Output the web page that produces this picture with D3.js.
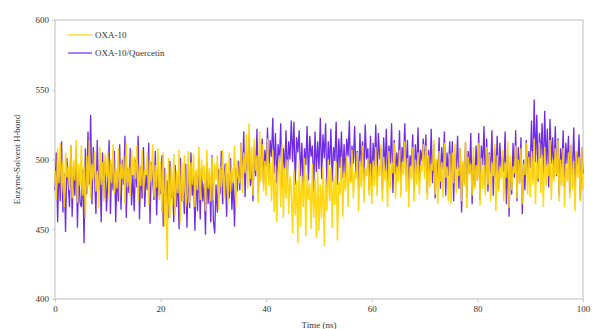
<!DOCTYPE html>
<html>
<head>
<meta charset="utf-8">
<script src="https://cdn.jsdelivr.net/npm/d3@7"></script>
<style>
  body { margin: 0; background: #fff; }
  text { font-family: "Liberation Serif", "DejaVu Serif", serif; }
</style>
</head>
<body>
<figure id="chart" style="margin:0"></figure>
<script>
// series names, as in legend
const seriesNames = ["OXA-10", "OXA-10/Quercetin"];
const xTicks = [0, 20, 40, 60, 80, 100];
const yTicks = [400, 450, 500, 550, 600];
const step = 0.25; // ns between samples

// OXA-10 (0..100 ns, one row = 5 ns)
const oxa10 = [
  492,471,508,483,512,476,499,466,505,487,495,478,510,472,500,485,514,469,497,481,
  510,474,495,458,503,480,514,472,497,485,506,477,492,465,509,482,498,470,504,488,
  506,471,500,483,511,476,494,479,508,473,497,486,503,468,512,480,495,474,507,489,
  502,486,510,470,497,481,507,475,493,489,505,467,499,484,511,473,496,480,508,471,
  499,462,505,452,490,428,501,458,495,467,504,460,492,476,507,455,498,470,503,466,
  474,506,469,498,482,504,466,493,478,509,471,500,485,496,463,507,479,494,470,502,
  471,497,485,503,464,495,480,507,472,492,498,468,505,477,494,483,510,466,500,487,
  483,512,476,505,490,518,479,526,486,509,474,515,492,503,469,520,484,511,477,499,
  474,515,481,498,470,507,462,496,455,490,503,466,511,458,494,472,500,461,488,477,
  447,493,460,485,440,499,452,488,466,501,445,490,471,483,450,497,458,486,444,492,
  449,482,458,495,438,487,463,500,470,494,451,489,467,498,442,484,475,502,459,491,
  478,503,466,498,483,507,472,491,486,505,463,499,480,510,469,494,488,501,474,497,
  468,499,481,509,474,496,488,511,470,502,485,493,466,506,479,498,490,512,472,495,
  484,507,473,498,489,513,477,501,466,495,486,509,470,500,482,505,475,496,491,511,
  486,510,471,503,480,497,492,514,475,500,468,506,484,498,473,512,487,495,470,504,
  468,505,483,511,476,494,488,508,470,499,481,513,465,502,490,497,474,509,479,496,
  485,512,467,501,479,496,474,509,482,504,470,498,488,511,463,503,477,495,486,507,
  470,498,487,513,465,503,478,495,490,510,472,500,483,508,468,497,489,512,475,502,
  473,506,482,515,468,499,486,512,476,503,466,509,481,497,488,514,471,500,484,508,
  489,514,470,500,481,508,466,497,484,505,472,511,478,499,463,506,487,502,470,509,
  478
];

// OXA-10/Quercetin
const oxa10Quercetin = [
  478,505,455,498,470,513,462,490,448,501,483,466,510,459,495,474,507,451,492,469,
  466,493,440,508,475,520,482,532,468,509,487,461,514,478,497,455,505,472,499,463,
  485,514,461,497,478,506,455,492,470,511,464,500,482,517,458,494,476,508,467,489,
  463,500,480,517,457,495,472,509,466,489,478,512,454,498,485,471,506,460,493,475,
  476,503,452,494,468,485,458,499,472,482,455,496,466,488,450,501,470,484,461,497,
  451,496,465,505,474,488,449,491,463,500,457,494,470,483,446,498,468,489,455,503,
  456,447,482,462,493,475,506,468,488,497,459,490,472,501,464,485,452,494,477,499,
  478,512,486,520,473,505,492,516,481,498,470,509,488,522,476,503,494,515,483,507,
  495,523,487,514,502,530,490,519,483,511,498,526,480,508,493,521,486,513,500,528,
  498,527,482,516,505,521,488,512,479,508,496,524,485,517,502,510,477,520,491,513,
  493,530,486,518,501,526,480,513,496,522,484,509,499,527,482,515,494,520,487,511,
  487,515,502,528,484,510,497,524,489,506,480,519,495,513,486,525,500,508,478,517,
  481,512,495,525,486,519,500,508,478,516,491,522,483,510,497,526,476,514,489,505,
  492,521,484,509,498,526,488,514,480,503,495,518,477,511,490,523,485,507,499,515,
  495,518,476,507,490,522,483,511,472,500,487,516,479,509,493,520,474,505,488,513,
  486,513,470,504,493,517,479,508,462,497,484,512,473,506,490,519,468,502,481,510,
  485,519,471,510,496,524,482,515,477,505,490,521,474,508,487,517,479,512,493,502,
  491,520,468,503,459,498,475,512,487,521,470,509,483,516,461,500,478,514,489,506,
  494,528,486,543,498,532,484,519,501,526,489,535,495,522,480,529,497,516,487,524,
  488,515,474,508,493,521,480,512,497,517,476,510,490,523,482,506,495,518,471,509,
  490
];

const width = 597, height = 329;
const margin = { top: 20, right: 14, bottom: 30, left: 55 };
const colors = ["#FFD400", "#6F2BE6"];

const svg = d3.select("figure#chart")
  .append("svg")
  .attr("width", width)
  .attr("height", height);

const x = d3.scaleLinear().domain([0, 100]).range([margin.left, width - margin.right]);
const y = d3.scaleLinear().domain([400, 600]).range([height - margin.bottom, margin.top]);

// frame
svg.append("rect")
  .attr("x", margin.left)
  .attr("y", margin.top)
  .attr("width", width - margin.left - margin.right)
  .attr("height", height - margin.top - margin.bottom)
  .attr("fill", "none")
  .attr("stroke", "#c8c8c8")
  .attr("stroke-width", 1.2);

const line = d3.line()
  .x((d, i) => x(i * step))
  .y(d => y(d));

// quercetin first, OXA-10 on top
svg.append("path")
  .datum(oxa10Quercetin)
  .attr("d", line)
  .attr("fill", "none")
  .attr("stroke", colors[1])
  .attr("stroke-width", 1.3);

svg.append("path")
  .datum(oxa10)
  .attr("d", line)
  .attr("fill", "none")
  .attr("stroke", colors[0])
  .attr("stroke-opacity", 0.92)
  .attr("stroke-width", 1.5);

// axes
const xAxis = svg.append("g")
  .attr("transform", "translate(0," + (height - margin.bottom) + ")")
  .call(d3.axisBottom(x).tickValues(xTicks).tickSize(3).tickPadding(4));
const yAxis = svg.append("g")
  .attr("transform", "translate(" + margin.left + ",0)")
  .call(d3.axisLeft(y).tickValues(yTicks).tickSize(3).tickPadding(3));

[xAxis, yAxis].forEach(a => {
  a.select(".domain").remove();
  a.selectAll(".tick line").attr("stroke", "#c8c8c8");
  a.selectAll(".tick text")
    .attr("fill", "#333")
    .attr("font-size", 9)
    .attr("font-family", "Liberation Serif, serif");
});

// axis titles
svg.append("text")
  .attr("x", (margin.left + width - margin.right) / 2)
  .attr("y", 328)
  .attr("text-anchor", "middle")
  .attr("font-size", 9)
  .attr("fill", "#333")
  .text("Time (ns)");

svg.append("text")
  .attr("transform", "translate(20," + ((margin.top + height - margin.bottom) / 2) + ") rotate(-90)")
  .attr("text-anchor", "middle")
  .attr("font-size", 9)
  .attr("fill", "#333")
  .text("Enzyme-Solvent H-bond");

// legend
const legend = svg.append("g").attr("transform", "translate(68,35)");
seriesNames.forEach((name, i) => {
  legend.append("line")
    .attr("x1", 0).attr("x2", 24)
    .attr("y1", i * 18).attr("y2", i * 18)
    .attr("stroke", colors[i])
    .attr("stroke-width", 1.2);
  legend.append("text")
    .attr("x", 27)
    .attr("y", i * 18 + 3)
    .attr("font-size", 9)
    .attr("fill", "#333")
    .text(name);
});
</script>
</body>
</html>
